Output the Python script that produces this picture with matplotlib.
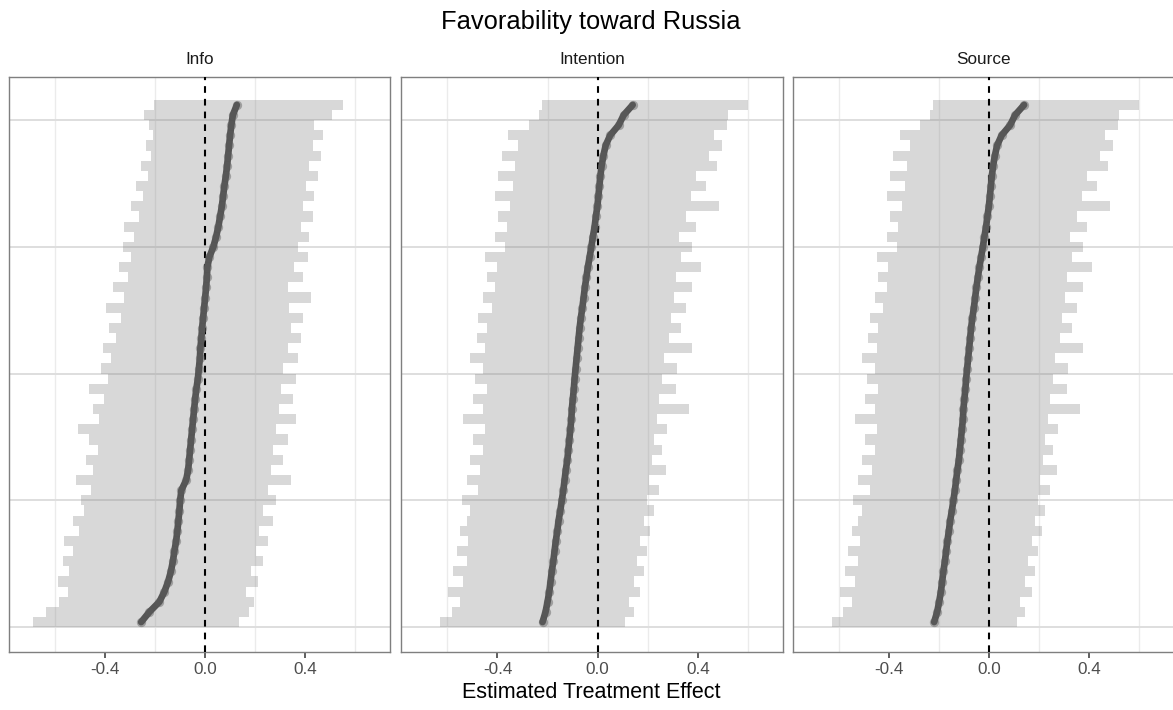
import numpy as np
import matplotlib.pyplot as plt

# rows are ordered from the lowest estimate (bottom) to the highest (top)
panels = ['Info', 'Intention', 'Source']

info_est = [-0.256, -0.223, -0.183, -0.163, -0.148, -0.137, -0.129, -0.123, -0.116, -0.111,
            -0.107, -0.103, -0.100, -0.095, -0.076, -0.068, -0.064, -0.060, -0.056, -0.052,
            -0.048, -0.044, -0.040, -0.035, -0.029, -0.025, -0.021, -0.019, -0.015, -0.012,
            -0.008, -0.004, 0.000, 0.004, 0.007, 0.009, 0.017, 0.033, 0.044, 0.053,
            0.060, 0.067, 0.072, 0.077, 0.083, 0.088, 0.092, 0.096, 0.100, 0.105,
            0.111, 0.127]
info_lo = [-0.689, -0.636, -0.583, -0.549, -0.589, -0.543, -0.569, -0.529, -0.563, -0.503,
           -0.529, -0.483, -0.496, -0.456, -0.516, -0.449, -0.476, -0.429, -0.463, -0.509,
           -0.423, -0.449, -0.403, -0.463, -0.389, -0.416, -0.376, -0.409, -0.356, -0.383,
           -0.336, -0.396, -0.323, -0.369, -0.309, -0.343, -0.296, -0.329, -0.283, -0.323,
           -0.263, -0.296, -0.249, -0.276, -0.229, -0.256, -0.216, -0.236, -0.209, -0.223,
           -0.243, -0.203]
info_hi = [0.137, 0.177, 0.197, 0.164, 0.211, 0.184, 0.231, 0.204, 0.251, 0.217,
           0.271, 0.231, 0.284, 0.251, 0.344, 0.264, 0.311, 0.271, 0.331, 0.284,
           0.364, 0.297, 0.351, 0.304, 0.364, 0.311, 0.371, 0.331, 0.384, 0.344,
           0.391, 0.337, 0.424, 0.331, 0.391, 0.357, 0.411, 0.371, 0.417, 0.384,
           0.431, 0.391, 0.437, 0.404, 0.451, 0.417, 0.464, 0.431, 0.471, 0.437,
           0.509, 0.551]

intention_est = [-0.220, -0.208, -0.200, -0.193, -0.188, -0.183, -0.177, -0.172, -0.167, -0.161,
                 -0.156, -0.149, -0.143, -0.137, -0.132, -0.127, -0.121, -0.117, -0.113, -0.109,
                 -0.105, -0.103, -0.099, -0.095, -0.092, -0.088, -0.084, -0.080, -0.076, -0.072,
                 -0.067, -0.061, -0.056, -0.051, -0.045, -0.039, -0.032, -0.025, -0.019, -0.012,
                 -0.007, -0.001, 0.003, 0.007, 0.011, 0.016, 0.023, 0.032, 0.050, 0.084,
                 0.104, 0.140]
intention_lo = [-0.629, -0.583, -0.549, -0.596, -0.536, -0.576, -0.523, -0.563, -0.516, -0.549,
                -0.523, -0.509, -0.543, -0.476, -0.523, -0.469, -0.509, -0.456, -0.496, -0.449,
                -0.536, -0.456, -0.496, -0.443, -0.489, -0.456, -0.509, -0.449, -0.483, -0.443,
                -0.476, -0.423, -0.456, -0.409, -0.443, -0.403, -0.449, -0.369, -0.409, -0.363,
                -0.396, -0.349, -0.409, -0.336, -0.396, -0.329, -0.383, -0.316, -0.356, -0.276,
                -0.236, -0.223]
intention_hi = [0.111, 0.144, 0.124, 0.171, 0.144, 0.184, 0.157, 0.197, 0.171, 0.211,
                0.184, 0.224, 0.197, 0.244, 0.204, 0.271, 0.217, 0.257, 0.224, 0.277,
                0.237, 0.364, 0.244, 0.311, 0.257, 0.317, 0.264, 0.377, 0.284, 0.331,
                0.291, 0.351, 0.304, 0.377, 0.311, 0.411, 0.331, 0.377, 0.324, 0.391,
                0.351, 0.484, 0.371, 0.431, 0.391, 0.477, 0.444, 0.497, 0.464, 0.517,
                0.520, 0.600]

# the Source panel reads the same as Intention in the picture
source_est = list(intention_est)
source_lo = list(intention_lo)
source_hi = list(intention_hi)

series = [(info_est, info_lo, info_hi),
          (intention_est, intention_lo, intention_hi),
          (source_est, source_lo, source_hi)]

plt.rcParams['font.family'] = ['Liberation Sans', 'DejaVu Sans']

W, H = 1173, 710
fig = plt.figure(figsize=(W / 100, H / 100), dpi=100)

lefts = [9, 401, 793]
widths = [381, 382, 381]
top, bottom = 77, 652
step = 20  # rank units covered by one row

for name, (est, lo, hi), l, w in zip(panels, series, lefts, widths):
    ax = fig.add_axes([l / W, (H - bottom) / H, w / W, (bottom - top) / H])
    est = np.array(est)
    lo = np.array(lo)
    hi = np.array(hi)
    y = np.arange(len(est)) * step + step / 2

    ax.barh(y, hi - lo, left=lo, height=step, color='#808080', alpha=0.3,
            linewidth=0, zorder=2)
    ax.axvline(0, color='black', ls=(0, (3.2, 2.9)), lw=1.5, zorder=3)
    ax.plot(est, y, color='#555555', lw=4.8, solid_capstyle='round', zorder=4)
    ax.scatter(est, y, s=45, color='#5a5a5a', alpha=0.45, linewidths=0, zorder=5)

    ax.set_xlim(-0.785, 0.74)
    ax.set_ylim(-49, 1085)
    ax.set_xticks([-0.4, 0.0, 0.4])
    ax.set_xticklabels(['-0.4', '0.0', '0.4'])
    ax.set_xticks([-0.6, -0.2, 0.2, 0.6], minor=True)
    ax.set_yticks([0, 250, 500, 750, 1000])
    ax.set_axisbelow(True)
    ax.grid(axis='y', which='major', color='#dedede', lw=1.4)
    ax.grid(axis='x', which='minor', color='#ebebeb', lw=1.0)
    ax.tick_params(axis='y', length=0, labelleft=False)
    ax.tick_params(axis='x', which='minor', length=0)
    ax.tick_params(axis='x', which='major', length=4, width=1.1, color='#333333',
                   labelsize=12.3, labelcolor='#4d4d4d', pad=3.5)
    for sp in ax.spines.values():
        sp.set_color('#7f7f7f')
        sp.set_linewidth(1.0)

    fig.text((l + w / 2) / W, 1 - 60 / H, name, ha='center', va='center',
             fontsize=12.3, color='#1a1a1a')

fig.text(591 / W, 1 - 22 / H, 'Favorability toward Russia', ha='center', va='center',
         fontsize=18.4, color='black')
fig.text(591 / W, 1 - 692 / H, 'Estimated Treatment Effect', ha='center', va='center',
         fontsize=15.5, color='black')

fig.savefig('out.png', dpi=100)
